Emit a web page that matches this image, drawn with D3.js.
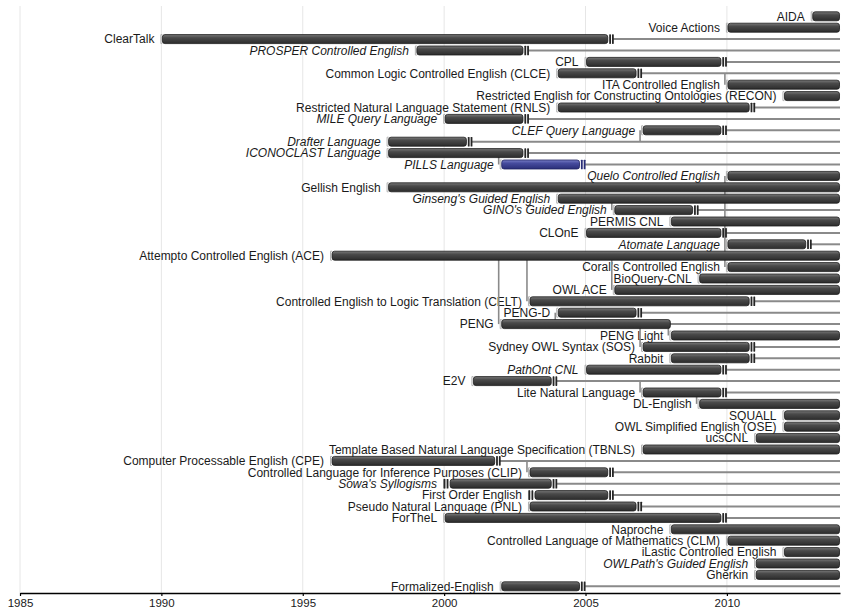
<!DOCTYPE html>
<html><head><meta charset="utf-8">
<script src="https://cdn.jsdelivr.net/npm/d3@7"></script>
<style>body{margin:0;background:#fff}svg{display:block}</style>
</head><body><svg id="c" width="842" height="609"></svg>
<script>
const languages = [
  "AIDA","Voice Actions","ClearTalk","PROSPER Controlled English","CPL",
  "Common Logic Controlled English (CLCE)","ITA Controlled English",
  "Restricted English for Constructing Ontologies (RECON)",
  "Restricted Natural Language Statement (RNLS)","MILE Query Language",
  "CLEF Query Language","Drafter Language","ICONOCLAST Language","PILLS Language",
  "Quelo Controlled English","Gellish English","Ginseng's Guided English",
  "GINO's Guided English","PERMIS CNL","CLOnE","Atomate Language",
  "Attempto Controlled English (ACE)","Coral's Controlled English","BioQuery-CNL",
  "OWL ACE","Controlled English to Logic Translation (CELT)","PENG-D","PENG",
  "PENG Light","Sydney OWL Syntax (SOS)","Rabbit","PathOnt CNL","E2V",
  "Lite Natural Language","DL-English","SQUALL","OWL Simplified English (OSE)",
  "ucsCNL","Template Based Natural Language Specification (TBNLS)",
  "Computer Processable English (CPE)",
  "Controlled Language for Inference Purposes (CLIP)","Sowa's Syllogisms",
  "First Order English","Pseudo Natural Language (PNL)","ForTheL","Naproche",
  "Controlled Language of Mathematics (CLM)","iLastic Controlled English",
  "OWLPath's Guided English","Gherkin","Formalized-English"
];
const startYears = [
  2013,2010,1990,1999,2005,2004,2010,2012,2004,2000,
  2007,1998,1998,2002,2010,1998,2004,2006,2008,2005,
  2010,1996,2010,2009,2006,2003,2004,2002,2008,2007,
  2008,2005,2001,2007,2009,2012,2012,2011,2007,1996,
  2003,2000,2003,2003,2000,2008,2010,2012,2011,2011,2002
];
// null = still in use (bar runs to the right edge)
const endYears = [
  null,null,2006,2003,2010,2007,null,null,2011,2003,
  2010,2001,2003,2005,null,null,null,2009,null,2010,
  2013,null,null,null,null,2011,2007,2008,null,2011,
  2011,2010,2004,2010,null,null,null,null,null,2002,
  2006,2004,2006,2007,2010,null,null,null,null,null,2005
];
const italicNames = [
  "PROSPER Controlled English","MILE Query Language","CLEF Query Language",
  "Drafter Language","ICONOCLAST Language","PILLS Language",
  "Quelo Controlled English","Ginseng's Guided English","GINO's Guided English",
  "Atomate Language","PathOnt CNL","Sowa's Syllogisms","OWLPath's Guided English"
];
const uncertainStart = ["Sowa's Syllogisms","First Order English"];
const plainEnd = ["PENG"];
const highlighted = ["PILLS Language"];
const derivations = [
  ["Common Logic Controlled English (CLCE)","ITA Controlled English"],
  ["Drafter Language","CLEF Query Language"],
  ["ICONOCLAST Language","PILLS Language"],
  ["Attempto Controlled English (ACE)","Quelo Controlled English"],
  ["Attempto Controlled English (ACE)","Coral's Controlled English"],
  ["Ginseng's Guided English","GINO's Guided English"],
  ["Attempto Controlled English (ACE)","OWL ACE"],
  ["Attempto Controlled English (ACE)","Controlled English to Logic Translation (CELT)"],
  ["Attempto Controlled English (ACE)","PENG"],
  ["PENG","PENG-D"],
  ["PENG","PENG Light"],
  ["PENG","Sydney OWL Syntax (SOS)"],
  ["E2V","Lite Natural Language"],
  ["Lite Natural Language","DL-English"],
  ["Computer Processable English (CPE)","Controlled Language for Inference Purposes (CLIP)"]
];
const tickYears = [1985,1990,1995,2000,2005,2010];
const domainYears = [1985,2014];

const rows = languages.map((name,i)=>({name,start:startYears[i],end:endYears[i]}));
const startOf = Object.fromEntries(rows.map(r=>[r.name,r.start]));

const svg = d3.select("#c");
const x = d3.scaleLinear().domain(domainYears).range([20,840]);
const y = d3.scalePoint().domain(languages).range([16.3,586.3]);
const font = "'Liberation Sans', Arial, sans-serif";
const H = 9;

const defs = svg.append("defs");
function grad(id, stops){
  const g = defs.append("linearGradient").attr("id",id).attr("x1",0).attr("y1",0).attr("x2",0).attr("y2",1);
  stops.forEach(([o,c])=>g.append("stop").attr("offset",o).attr("stop-color",c));
}
grad("gDark",[["0%","#7a7a7a"],["35%","#4a4a4a"],["100%","#2c2c2c"]]);
grad("gBlue",[["0%","#7a80c8"],["35%","#474c9e"],["100%","#2a2e78"]]);

// grid
svg.append("g").selectAll("line").data(tickYears).join("line")
  .attr("x1",d=>x(d)).attr("x2",d=>x(d)).attr("y1",6).attr("y2",593)
  .attr("stroke","#e6e6e6").attr("stroke-width",1);

// labels
svg.append("g").selectAll("text").data(rows).join("text")
  .attr("x",d=>x(d.start)-7).attr("y",d=>y(d.name)+4.3)
  .attr("text-anchor","end").attr("font-family",font).attr("font-size",12)
  .attr("fill","#1a1a1a")
  .attr("font-style",d=>italicNames.includes(d.name)?"italic":"normal")
  .text(d=>d.name);

// continuation lines after end
svg.append("g").selectAll("line").data(rows.filter(d=>d.end!==null)).join("line")
  .attr("x1",d=>x(d.end)-1).attr("x2",x(domainYears[1]))
  .attr("y1",d=>y(d.name)).attr("y2",d=>y(d.name))
  .attr("stroke","#8a8a8a").attr("stroke-width",2);

// derivation connectors
svg.append("g").selectAll("line").data(derivations).join("line")
  .attr("x1",d=>x(startOf[d[1]])-2).attr("x2",d=>x(startOf[d[1]])-2)
  .attr("y1",d=>y(d[0])).attr("y2",d=>y(d[1]))
  .attr("stroke","#8a8a8a").attr("stroke-width",1.6);

// start brackets
svg.append("g").selectAll("path").data(rows).join("path")
  .attr("d",d=>{const x0=x(d.start)-0.5, yc=y(d.name);
    return `M${x0+1.5},${yc-4.5} L${x0},${yc-4.5} L${x0},${yc+4.5} L${x0+1.5},${yc+4.5}`;})
  .attr("fill","none").attr("stroke","#b0b0b0").attr("stroke-width",1);

// bars
svg.append("g").selectAll("rect").data(rows).join("rect")
  .attr("x",d=>x(d.start)+(uncertainStart.includes(d.name)?6:1))
  .attr("width",d=>{
    const x0=x(d.start)+(uncertainStart.includes(d.name)?6:1);
    const x1=d.end===null?x(domainYears[1])-0.5:(plainEnd.includes(d.name)?x(d.end):x(d.end)-6);
    return Math.max(1,x1-x0);})
  .attr("y",d=>y(d.name)-H/2).attr("height",H).attr("rx",2.5)
  .attr("fill",d=>highlighted.includes(d.name)?"url(#gBlue)":"url(#gDark)")
  .attr("stroke",d=>highlighted.includes(d.name)?"#1e2160":"#1c1c1c").attr("stroke-width",0.8);

// double-tick end marks
const marks = [];
rows.forEach(d=>{
  const col = highlighted.includes(d.name)?"#2a2e78":"#262626";
  if(d.end!==null && !plainEnd.includes(d.name)){
    marks.push({x:x(d.end)-4.6,y:y(d.name),c:col});
    marks.push({x:x(d.end)-1.8,y:y(d.name),c:col});
  }
  if(uncertainStart.includes(d.name)){
    marks.push({x:x(d.start)-0.5,y:y(d.name),c:col});
    marks.push({x:x(d.start)+2.5,y:y(d.name),c:col});
  }
});
svg.append("g").selectAll("rect").data(marks).join("rect")
  .attr("x",d=>d.x).attr("width",1.8).attr("y",d=>d.y-H/2-0.3).attr("height",H+0.6)
  .attr("rx",0.6).attr("fill",d=>d.c);

// axis
const ax = svg.append("g").attr("transform","translate(0,593)")
  .call(d3.axisBottom(x).tickValues(tickYears).tickFormat(d3.format("d")).tickSize(3).tickSizeOuter(0).tickPadding(3));
ax.select(".domain").attr("stroke","#000").attr("stroke-width",1.5);
ax.selectAll(".tick line").attr("stroke","#000").attr("stroke-width",1.2);
ax.selectAll(".tick text").attr("font-family",font).attr("font-size",11.5).attr("fill","#1a1a1a");
</script></body></html>
